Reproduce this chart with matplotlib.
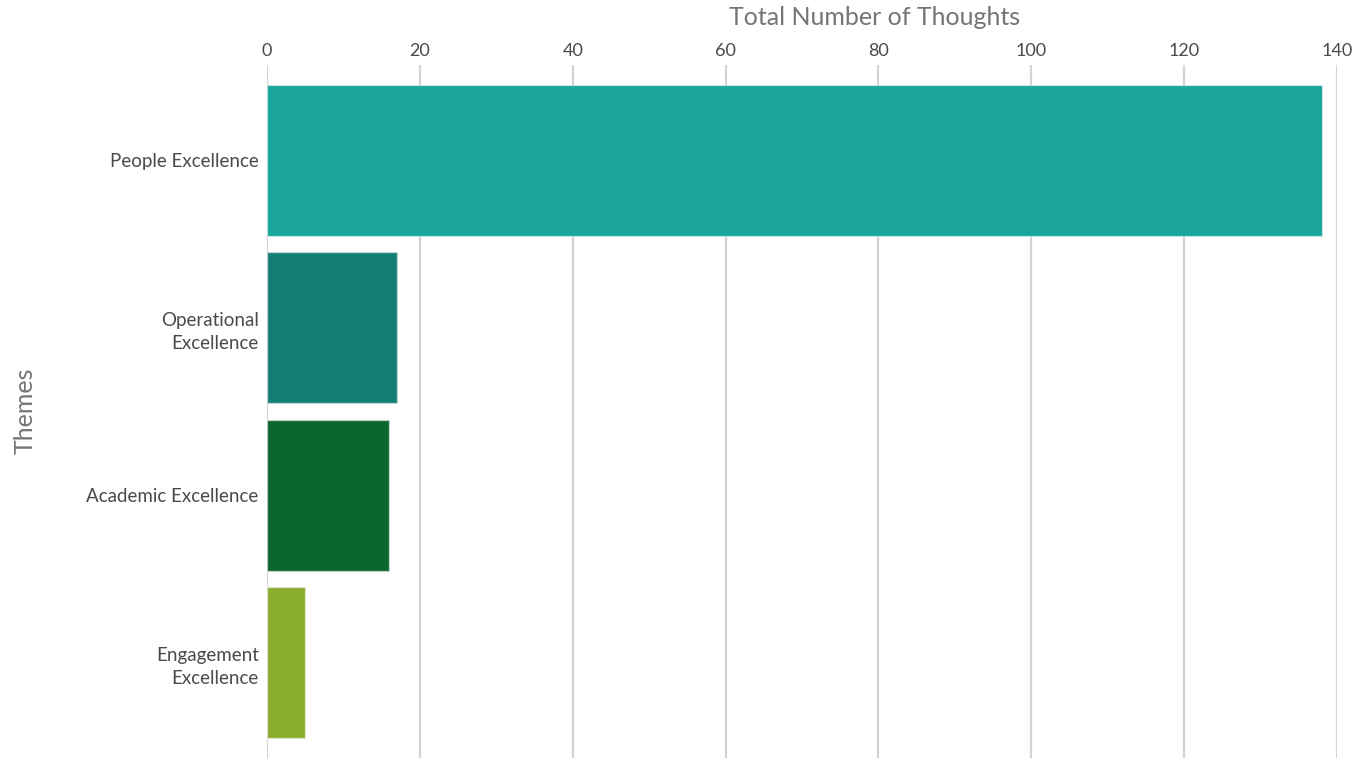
import matplotlib.pyplot as plt

# Thoughts per theme
themes = ['People Excellence', 'Operational\nExcellence', 'Academic Excellence', 'Engagement\nExcellence']
counts = [138, 17, 16, 5]
colors = ['#1aa59b', '#147d76', '#0c6630', '#8aad2f']
xticks = [0, 20, 40, 60, 80, 100, 120, 140]

plt.rcParams['font.family'] = ['Lato', 'DejaVu Sans']

fig = plt.figure(figsize=(13.6, 7.63), dpi=100)
ax = fig.add_axes([0.1963, 0.0066, 0.7868, 0.9082])

pos = list(range(len(themes)))
ax.barh(pos, counts, height=0.9, color=colors, edgecolor=(1, 1, 1, 0.45), linewidth=1, zorder=3)

ax.set_xlim(0, 140)
ax.set_ylim(3.569, -0.569)
ax.set_xticks(xticks)
ax.set_yticks(pos)
ax.set_yticklabels(themes)

# x axis sits on top
ax.xaxis.tick_top()
ax.xaxis.set_label_position('top')
ax.tick_params(axis='x', length=0, pad=4, labelsize=13, labelcolor='#4a4a4a')
ax.tick_params(axis='y', length=0, pad=6, labelsize=13.5, labelcolor='#4a4a4a')
for lbl in ax.get_yticklabels():
    lbl.set_horizontalalignment('right')
    lbl.set_multialignment('right')
    lbl.set_linespacing(1.4)

ax.grid(axis='x', color='#d3d3d3', linewidth=1.6, zorder=0)
for s in ax.spines.values():
    s.set_visible(False)

ax.set_xlabel('Total Number of Thoughts', fontsize=18, color='#757575')
ax.xaxis.label.set_verticalalignment('center')
ax.xaxis.set_label_coords(0.568, 1.068)
fig.text(0.0185, 0.462, 'Themes', rotation=90, fontsize=18, color='#757575', ha='center', va='center')

plt.savefig('out.png', dpi=100)
